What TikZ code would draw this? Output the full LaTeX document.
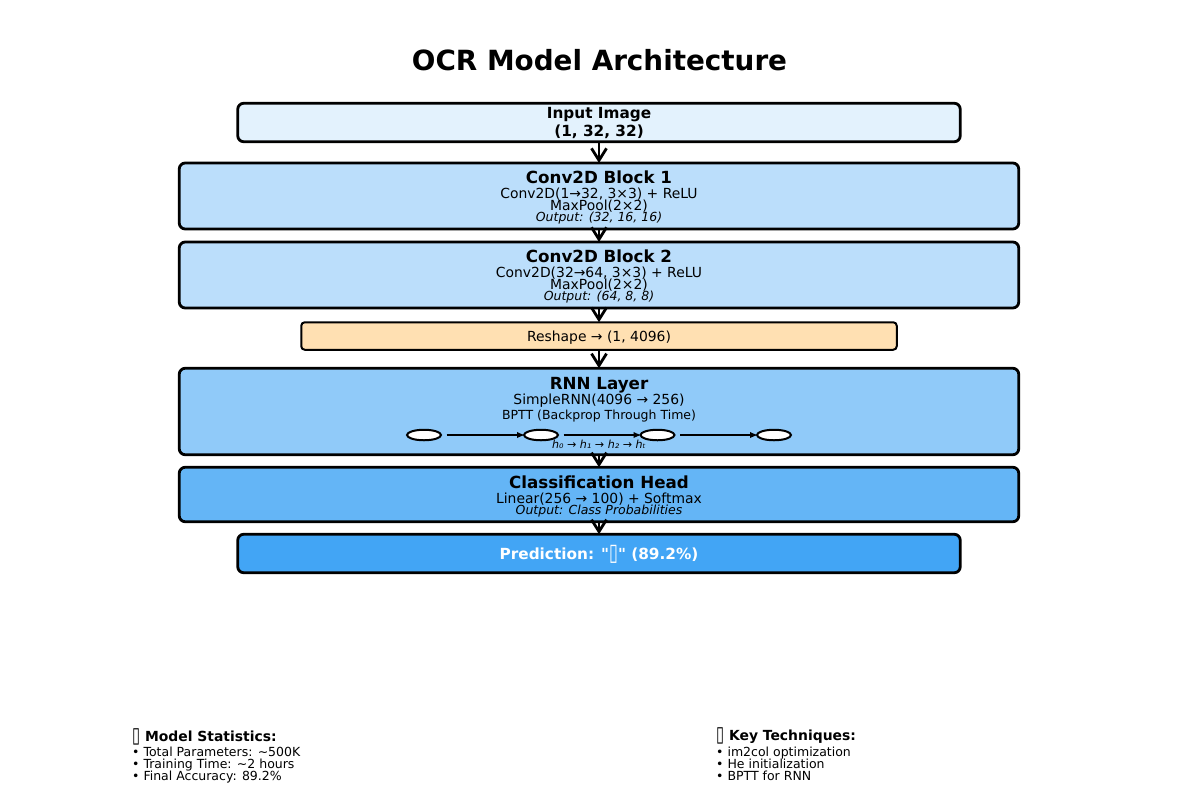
\documentclass[tikz,border=0pt]{standalone}
\usepackage{fontspec}
\usepackage{graphicx}
\setmainfont{DejaVu Sans}
\newfontfamily\plainq{DejaVu Sans}
\usetikzlibrary{arrows.meta,shapes.geometric}
\definecolor{inputc}{HTML}{E3F2FD}
\definecolor{convc}{HTML}{BBDEFB}
\definecolor{reshc}{HTML}{FFE0B2}
\definecolor{rnnc}{HTML}{90CAF9}
\definecolor{clsc}{HTML}{64B5F6}
\definecolor{predc}{HTML}{42A5F5}
\newcommand{\fsz}[1]{\fontsize{#1}{#1}\selectfont}
\newcommand{\tofu}{\raisebox{-0.12em}{\scalebox{1.05}[1.55]{▯}}}
\newcommand{\strq}{{\plainq"}}
\tikzset{
  x=1pt,y=-1pt,
  blockbox/.style={draw=black,line width=2.8pt,rounded corners=6pt,inner sep=0pt,outer sep=0pt},
  widebox/.style={blockbox,minimum width=839.5pt},
  midbox/.style={blockbox,minimum width=722.5pt},
  flowline/.style={draw=black,line width=2.8pt,-{Straight Barb[length=12pt,width=15pt,line width=2.8pt]}},
  cellnode/.style={draw=black,fill=white,ellipse,line width=2pt,minimum width=34pt,minimum height=10.5pt,inner sep=0pt,outer sep=0pt},
  linkline/.style={draw=black,line width=1.9pt,-{Latex[length=8pt,width=6.5pt]},shorten <=5.5pt,shorten >=-1pt},
  lab/.style={anchor=base,inner sep=0pt,text=black},
  leftlab/.style={anchor=base west,inner sep=0pt,text=black},
  titlelab/.style={lab,font=\fsz{27.8}\bfseries},
  headlab/.style={lab,font=\fsz{16.7}\bfseries},
  inplab/.style={lab,font=\fsz{15.3}\bfseries},
  bodylab/.style={lab,font=\fsz{13.9}},
  smalllab/.style={lab,font=\fsz{12.5}},
  outlab/.style={lab,font=\fsz{12.5}\itshape},
  stathlab/.style={leftlab,font=\fsz{13.9}\bfseries},
  statlab/.style={leftlab,font=\fsz{12.5}}
}
\begin{document}
\begin{tikzpicture}
\useasboundingbox (0,0) rectangle (1198,807);
\fill[white] (0,0) rectangle (1198,807);
\node[titlelab] (ttl) at (599.5,70) {OCR Model Architecture};
% blocks
\node[midbox,fill=inputc,minimum height=38.5pt] (input) at (599,122.5) {};
\node[widebox,fill=convc,minimum height=66pt] (conva) at (599,196) {};
\node[widebox,fill=convc,minimum height=66pt] (convb) at (599,275) {};
\node[blockbox,line width=2pt,rounded corners=3.5pt,fill=reshc,minimum width=595.5pt,minimum height=27.5pt] (resh) at (599,336) {};
\node[widebox,fill=rnnc,minimum height=86.5pt] (rnn) at (599,411.5) {};
\node[widebox,fill=clsc,minimum height=54.5pt] (cls) at (599,494.5) {};
\node[midbox,fill=predc,minimum height=38.5pt] (pred) at (599,553.5) {};
% connectors
\draw[flowline] (input.south) -- (conva.north);
\draw[flowline] (conva.south) -- (convb.north);
\draw[flowline] (convb.south) -- (resh.north);
\draw[flowline] (resh.south) -- (rnn.north);
\draw[flowline] (rnn.south) -- (cls.north);
\draw[flowline] (cls.south) -- (pred.north);
% rnn links and cells
\node[cellnode] (ea) at (424,435) {};
\node[cellnode] (eb) at (541,435) {};
\node[cellnode] (ec) at (657.5,435) {};
\node[cellnode] (ed) at (774,435) {};
\draw[linkline] (ea.east) -- (eb.west);
\draw[linkline] (eb.east) -- (ec.west);
\draw[linkline] (ec.east) -- (ed.west);
% labels
\node[inplab] (inta) at (599,118.5) {Input Image};
\node[inplab] (intb) at (599,136) {(1, 32, 32)};
\node[headlab] (cah) at (599,183.5) {Conv2D Block 1};
\node[bodylab] (caa) at (599,198) {Conv2D(1→32, 3×3) + ReLU};
\node[bodylab] (cab) at (599,210) {MaxPool(2×2)};
\node[outlab] (cac) at (599,221) {Output: (32, 16, 16)};
\node[headlab] (cbh) at (599,262.5) {Conv2D Block 2};
\node[bodylab] (cba) at (599,277) {Conv2D(32→64, 3×3) + ReLU};
\node[bodylab] (cbb) at (599,289) {MaxPool(2×2)};
\node[outlab] (cbc) at (599,300) {Output: (64, 8, 8)};
\node[bodylab] (rl) at (599,341) {Reshape → (1, 4096)};
\node[headlab] (rh) at (599,389.5) {RNN Layer};
\node[bodylab] (ra) at (599,404.5) {SimpleRNN(4096 → 256)};
\node[smalllab] (rb) at (599,419.5) {BPTT (Backprop Through Time)};
\node[lab,font=\fsz{11.1}\itshape] (rc) at (599,448) {h₀ → h₁ → h₂ → hₜ};
\node[headlab] (ch) at (599,488.5) {Classification Head};
\node[bodylab] (ca) at (599,503) {Linear(256 → 100) + Softmax};
\node[outlab] (cb) at (599,514.5) {Output: Class Probabilities};
\node[inplab,text=white] (pl) at (599,559) {Prediction: \strq\tofu\strq{} (89.2\%)};
% statistics
\node[stathlab] (sh) at (132,741) {\tofu{} Model Statistics:};
\node[statlab] (sa) at (132,756.5) {• Total Parameters: \textasciitilde 500K};
\node[statlab] (sb) at (132,768.5) {• Training Time: \textasciitilde 2 hours};
\node[statlab] (sc) at (132,780.5) {• Final Accuracy: 89.2\%};
\node[stathlab] (kh) at (716,740) {\tofu{} Key Techniques:};
\node[statlab] (ka) at (716,756.5) {• im2col optimization};
\node[statlab] (kb) at (716,768.5) {• He initialization};
\node[statlab] (kc) at (716,780.5) {• BPTT for RNN};
\end{tikzpicture}
\end{document}
